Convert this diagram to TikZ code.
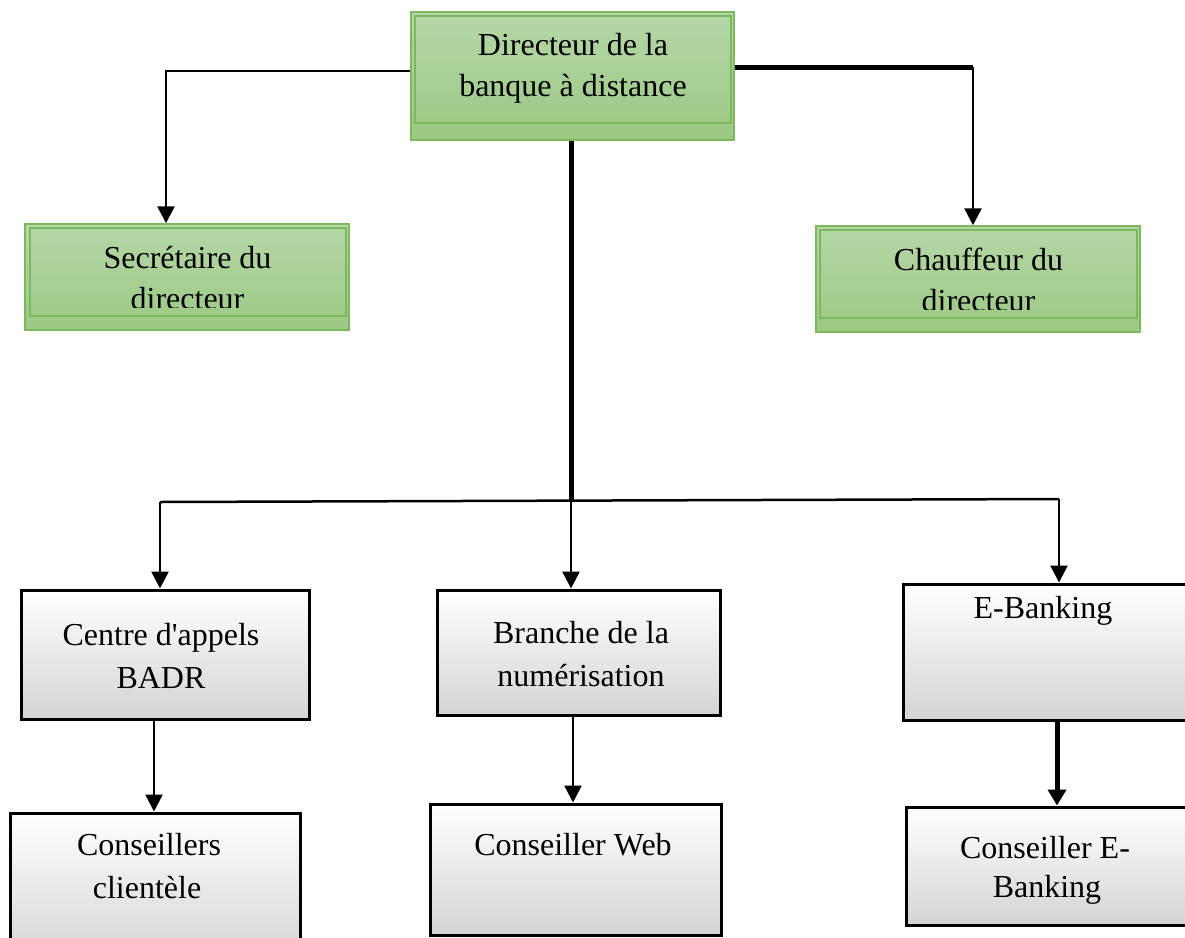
\documentclass[tikz,border=0pt]{standalone}
\usepackage{fontspec}
\setmainfont{Liberation Serif}
\usetikzlibrary{arrows.meta}
\definecolor{gtop}{HTML}{B6D7A8}
\definecolor{gbot}{HTML}{9BC983}
\definecolor{gborder}{HTML}{7DB85F}
\definecolor{gybot}{HTML}{D4D4D4}
\tikzset{
  greenbox/.style={draw=gborder, line width=1.5pt, top color=gtop, bottom color=gbot, inner sep=0pt, minimum width=#1},
  innerbox/.style={draw=gborder, line width=1.5pt},
  graybox/.style={draw=black, line width=3pt, top color=white, middle color=white!96!black, bottom color=gybot, inner sep=0pt},
  txt/.style={anchor=base, inner sep=0pt, font=\fontsize{32}{41}\selectfont},
  conn/.style={draw=black, line width=2.5pt},
  thickconn/.style={draw=black, line width=5pt},
  tip/.style={-{Triangle[width=17pt,length=17pt]}},
}
\begin{document}
\begin{tikzpicture}[x=1pt,y=-1pt]
\useasboundingbox (0,0) rectangle (1185,937);
\clip (0,0) rectangle (1185,937);
\fill[white] (0,0) rectangle (1185,937);

% ---- green boxes ----
\node[greenbox=323pt, minimum height=128pt] (dir) at (572.5,76) {};
\draw[innerbox] (415,16) rectangle (731,123);
\node[txt] (dirt1) at (573,55) {Directeur de la};
\node[txt] (dirt2) at (573,96) {banque à distance};

\node[greenbox=324pt, minimum height=106pt] (sec) at (187,277) {};
\draw[innerbox] (30,228) rectangle (346,316);
\node[txt] (sect1) at (187.5,268) {Secrétaire du};
\begin{scope}
\clip (30,228) rectangle (346,307);
\node[txt] (sect2) at (187.5,309) {directeur};
\end{scope}

\node[greenbox=324pt, minimum height=106pt] (cha) at (978,279) {};
\draw[innerbox] (820,230) rectangle (1137,318);
\node[txt] (chat1) at (978.5,270) {Chauffeur du};
\begin{scope}
\clip (820,230) rectangle (1137,309);
\node[txt] (chat2) at (978.5,311) {directeur};
\end{scope}

% ---- gray boxes, row 1 ----
\node[graybox, minimum width=288pt, minimum height=129pt] (cen) at (165,654.5) {};
\node[txt] (cent1) at (161,645) {Centre d\textquotesingle appels};
\node[txt] (cent2) at (161,688) {BADR};

\node[graybox, minimum width=283pt, minimum height=125pt] (bra) at (578.5,652.5) {};
\node[txt] (brat1) at (581,643) {Branche de la};
\node[txt] (brat2) at (581,686) {numérisation};

\node[graybox, minimum width=300pt, minimum height=136pt] (eb) at (1053,652) {};
\node[txt] (ebt) at (1043,618) {E-Banking};

% ---- gray boxes, row 2 ----
\node[graybox, minimum width=290pt, minimum height=150pt] (cc) at (155,888) {};
\node[txt] (cct1) at (149,855) {Conseillers};
\node[txt] (cct2) at (147,898) {clientèle};

\node[graybox, minimum width=291pt, minimum height=131pt] (cw) at (575.5,869.5) {};
\node[txt] (cwt) at (573,855) {Conseiller Web};

\node[graybox, minimum width=300pt, minimum height=118pt] (ce) at (1056,866) {};
\node[txt] (cet1) at (1045,858) {Conseiller E-};
\node[txt] (cet2) at (1047,897) {Banking};

% ---- connectors ----
\coordinate (tl) at (166,71);
\draw[conn, tip] (tl -| dir.west) -- (tl) -- (tl |- sec.north);

\coordinate (tr) at (973,67);
\draw[thickconn] (tr -| dir.east) -- (tr);
\draw[conn, tip] (tr) -- (tr |- cha.north);

\coordinate (hm) at (571,501);
\draw[thickconn] (hm |- dir.south) -- (hm);
\coordinate (hl) at (160,502);
\coordinate (hr) at (1059,499);
\draw[conn] (hl) -- (hr);
\draw[conn, tip] (hl) -- (hl |- cen.north);
\draw[conn, tip] (hm) -- (hm |- bra.north);
\draw[conn, tip] (hr) -- (hr |- eb.north);

\coordinate (v1) at (154,0);
\draw[conn, tip] (v1 |- cen.south) -- (v1 |- cc.north);
\coordinate (v2) at (573,0);
\draw[conn, tip] (v2 |- bra.south) -- (v2 |- cw.north);
\coordinate (v3) at (1057,0);
\draw[thickconn, -{Triangle[width=18pt,length=16pt]}] (v3 |- eb.south) -- (v3 |- ce.north);
\end{tikzpicture}
\end{document}
